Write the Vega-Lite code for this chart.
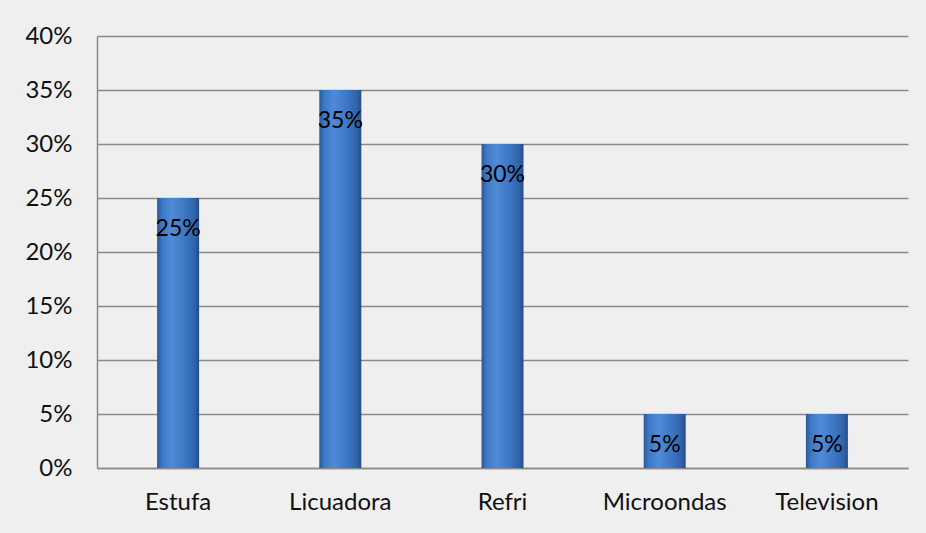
{
  "$schema": "https://vega.github.io/schema/vega-lite/v6.json",
  "width": 811,
  "height": 432,
  "autosize": {"type": "none"},
  "padding": {"left": 97, "top": 36, "right": 18, "bottom": 65},
  "background": "#efefef",
  "config": {
    "view": {"stroke": null, "fill": "#efefef"},
    "font": "Lato"
  },
  "data": {
    "values": [
      {"cat": "Estufa", "v": 0.25},
      {"cat": "Licuadora", "v": 0.35},
      {"cat": "Refri", "v": 0.30},
      {"cat": "Microondas", "v": 0.05},
      {"cat": "Television", "v": 0.05}
    ]
  },
  "encoding": {
    "x": {
      "field": "cat", "type": "nominal", "sort": null,
      "axis": {"title": null, "labelAngle": 0, "labelFont": "Lato", "labelFontSize": 24, "labelColor": "#111", "ticks": false, "labelPadding": 22, "labelOverlap": false, "domainColor": "#8a8a8a", "domainWidth": 1.5}
    },
    "y": {
      "field": "v", "type": "quantitative",
      "scale": {"domain": [0, 0.4]},
      "axis": {"title": null, "format": ".0%", "values": [0,0.05,0.1,0.15,0.2,0.25,0.3,0.35,0.4], "labelOverlap": false, "labelFont": "Lato", "labelFontSize": 24, "labelColor": "#111", "ticks": false, "labelPadding": 25, "gridColor": "#8a8a8a", "gridWidth": 1.5, "domainColor": "#8a8a8a", "domainWidth": 1.5}
    }
  },
  "layer": [
    {
      "mark": {
        "type": "bar", "size": 42,
        "color": {
          "x1": 0, "y1": 0, "x2": 1, "y2": 0,
          "gradient": "linear",
          "stops": [
            {"offset": 0, "color": "#2a5896"},
            {"offset": 0.12, "color": "#3d78c4"},
            {"offset": 0.35, "color": "#4f8bd8"},
            {"offset": 0.7, "color": "#3b74c0"},
            {"offset": 0.9, "color": "#2f62a8"},
            {"offset": 1, "color": "#244d86"}
          ]
        }
      }
    },
    {
      "mark": {"type": "text", "baseline": "alphabetic", "dy": 38, "fontSize": 23, "font": "Lato", "color": "#000"},
      "encoding": {"text": {"field": "v", "type": "quantitative", "format": ".0%"}}
    }
  ]
}
